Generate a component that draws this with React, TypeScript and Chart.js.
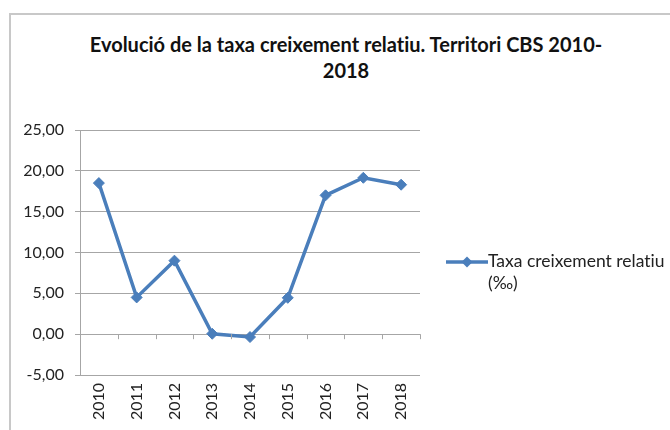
import React, { useEffect, useRef } from "react";
import { Chart, registerables } from "chart.js";

Chart.register(...registerables);

const TITLE_LINES = ["Evolució de la taxa creixement relatiu. Territori CBS 2010-", "2018"];
const YEARS = ["2010", "2011", "2012", "2013", "2014", "2015", "2016", "2017", "2018"];
const TAXA = [18.5, 4.5, 9.0, 0.05, -0.35, 4.45, 17.0, 19.15, 18.3];
const SERIES_LABEL_LINES = ["Taxa creixement relatiu", "(‰)"];
const Y_MIN = -5;
const Y_MAX = 25;
const Y_STEP = 5;

const BLUE = "#4A7EBB";
const GRID = "#A6A6A6";
const FONT = "Lato, 'Open Sans', sans-serif";

const zeroTicks = {
  id: "zeroTicks",
  afterDraw(chart: any) {
    const x = chart.scales.x;
    const y = chart.scales.y;
    const ctx = chart.ctx;
    const y0 = y.getPixelForValue(0);
    const n = chart.data.labels.length;
    ctx.save();
    ctx.strokeStyle = GRID;
    ctx.lineWidth = 1;
    for (let i = 1; i <= n; i++) {
      const px = Math.round((x.getPixelForValue(i - 1) + x.getPixelForValue(i)) / 2) + 0.5;
      ctx.beginPath();
      ctx.moveTo(px, y0);
      ctx.lineTo(px, y0 + 5);
      ctx.stroke();
    }
    ctx.restore();
  },
};

export default function App() {
  const ref = useRef<HTMLCanvasElement>(null);
  useEffect(() => {
    if (!ref.current) return;
    const chart = new Chart(ref.current, {
      type: "line",
      data: {
        labels: YEARS,
        datasets: [
          {
            label: SERIES_LABEL_LINES.join(" "),
            data: TAXA,
            borderColor: BLUE,
            backgroundColor: BLUE,
            borderWidth: 3.5,
            pointStyle: "rectRot",
            pointRadius: 5.5,
            pointBorderWidth: 1,
            tension: 0,
          },
        ],
      },
      plugins: [zeroTicks],
      options: {
        animation: false,
        responsive: false,
        layout: { padding: { left: 10, right: 250, top: 130, bottom: 0 } },
        plugins: {
          legend: { display: false },
          title: { display: false },
          tooltip: { enabled: false },
        },
        scales: {
          x: {
            offset: true,
            grid: { display: false, drawTicks: false },
            border: { display: false },
            ticks: {
              minRotation: 90,
              maxRotation: 90,
              padding: 8,
              color: "#222",
              font: { family: FONT, size: 16 },
            },
            afterFit(scale: any) {
              scale.height = 55;
            },
          },
          y: {
            min: Y_MIN,
            max: Y_MAX,
            ticks: {
              stepSize: Y_STEP,
              color: "#222",
              padding: 11,
              font: { family: FONT, size: 16 },
              callback: (v: any) => Number(v).toFixed(2).replace(".", ","),
            },
            grid: { color: GRID, tickLength: 5, lineWidth: 1 },
            border: { color: GRID, width: 1 },
            afterFit(scale: any) {
              scale.width = 70;
            },
          },
        },
      },
    });
    return () => chart.destroy();
  }, []);

  return (
    <div style={{ position: "fixed", left: 0, top: 0, width: 670, height: 430, background: "#fff", overflow: "hidden", fontFamily: FONT, fontVariantLigatures: "none" }}>
      <div style={{ position: "absolute", left: 9, top: 13, width: 700, height: 450, borderLeft: "2px solid #C8C8C8", borderTop: "2px solid #C8C8C8" }} />
      <div style={{ position: "absolute", left: 10, top: 31, width: 672, textAlign: "center", fontWeight: 700, fontSize: 20, lineHeight: "26px", color: "#111" }}>
        {TITLE_LINES.map((t, i) => (
          <div key={i}>{t}</div>
        ))}
      </div>
      <canvas ref={ref} width={670} height={430} style={{ position: "absolute", left: 0, top: 0 }} />
      <div style={{ position: "absolute", left: 446, top: 250, display: "flex", alignItems: "flex-start", color: "#222", fontSize: 17.5, lineHeight: "22px" }}>
        <svg width={42} height={20} style={{ marginTop: 2 }}>
          <line x1={0} y1={10} x2={42} y2={10} stroke={BLUE} strokeWidth={3.5} />
          <polygon points="21,4.5 26.5,10 21,15.5 15.5,10" fill={BLUE} />
        </svg>
        <div>
          {SERIES_LABEL_LINES.map((t, i) => (
            <div key={i}>{t}</div>
          ))}
        </div>
      </div>
    </div>
  );
}
